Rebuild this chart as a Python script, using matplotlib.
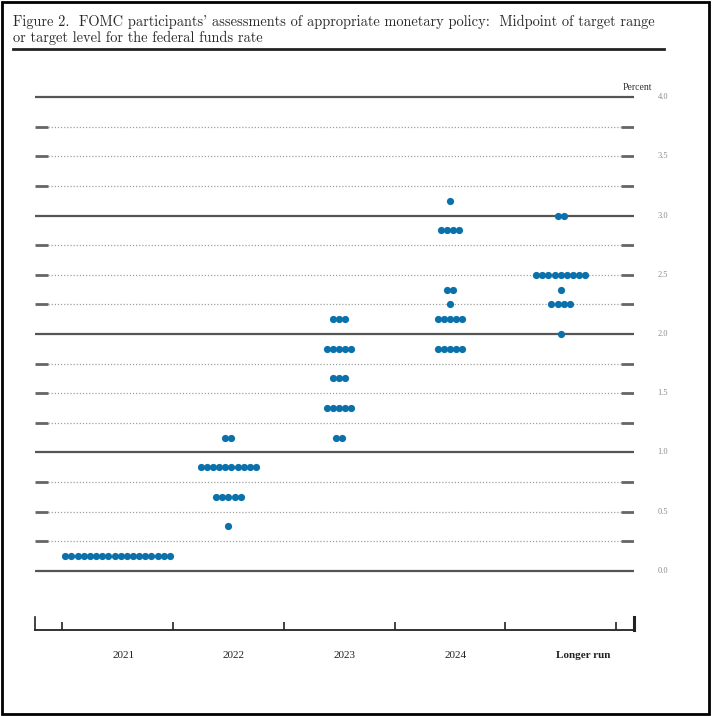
import matplotlib
matplotlib.use("Agg")
import matplotlib.pyplot as plt
import matplotlib.transforms as mtransforms
from matplotlib.patches import Rectangle
from matplotlib.lines import Line2D
import numpy as np

# FOMC dot plot: midpoint of target range per participant
categories = ["2021", "2022", "2023", "2024", "Longer run"]
rates_2021 = [0.125]
counts_2021 = [18]
rates_2022 = [0.375, 0.625, 0.875, 1.125]
counts_2022 = [1, 5, 10, 2]
rates_2023 = [1.125, 1.375, 1.625, 1.875, 2.125]
counts_2023 = [2, 5, 3, 5, 3]
rates_2024 = [1.875, 2.125, 2.25, 2.375, 2.875, 3.125]
counts_2024 = [5, 5, 1, 2, 4, 1]
rates_longer = [2.0, 2.25, 2.375, 2.5, 3.0]
counts_longer = [1, 4, 1, 9, 2]

y_labels = ["0.0", "0.5", "1.0", "1.5", "2.0", "2.5", "3.0", "3.5", "4.0"]

# cmr10 draws the plain apostrophe as a curly right quote
title = ("Figure 2.  FOMC participants' assessments of appropriate monetary policy:  Midpoint of target range\n"
         "or target level for the federal funds rate")

W, H = 713, 716
DOT = "#0a71ab"
SERIF = ["Liberation Serif", "DejaVu Serif"]


def fx(px):
    return px / W


def fy(py):
    return 1 - py / H


fig = plt.figure(figsize=(W / 100, H / 100), dpi=100)

# outer frame and title
fig.patches.append(Rectangle((fx(2), fy(714)), fx(707), 712 / H, transform=fig.transFigure,
                             fill=False, lw=2, edgecolor="black"))
fig.text(fx(13), fy(15), title, ha="left", va="top", fontsize=10.4,
         family=["cmr10", "DejaVu Serif"], color="#2a2a2a", linespacing=1.15)
fig.lines.append(Line2D([fx(13), fx(664)], [fy(49), fy(49)], transform=fig.transFigure,
                        lw=2, color="#222222"))

# main panel: 0.0 at y=570.7px, 4.0 at y=97.1px
ppu = (570.7 - 97.1) / 4
ylo, yhi = -0.1, 4.1
top_px = 97.1 - (yhi - 4) * ppu
bot_px = 570.7 + (0 - ylo) * ppu
xlo, xhi = -0.746, 4.662
ax = fig.add_axes([fx(35), fy(bot_px), fx(634) - fx(35), (bot_px - top_px) / H])
ax.set_xlim(xlo, xhi)
ax.set_ylim(ylo, yhi)
ax.axis("off")

dash = 13 / 110.7
for lv in np.arange(0, 4.01, 0.25):
    if abs(lv - round(lv)) < 1e-9:
        ax.hlines(lv, xlo, xhi, color="#555555", lw=1.6, zorder=1)
    else:
        ax.hlines(lv, xlo + dash, xhi - dash, color="#a0a0a0", lw=0.9,
                  linestyles=(0, (1, 1.5)), zorder=1)
        ax.hlines(lv, xlo, xlo + dash, color="#666666", lw=2, zorder=1)
        ax.hlines(lv, xhi - dash, xhi, color="#666666", lw=2, zorder=1)

for yl in y_labels:
    ax.text(4.875, float(yl), yl, ha="left", va="center", fontsize=6,
            color="#8a8a8a", family=SERIF, clip_on=False)
ax.text(4.825, 4.077, "Percent", ha="right", va="center", fontsize=7,
        color="#333333", family=SERIF, clip_on=False)

all_rates = [rates_2021, rates_2022, rates_2023, rates_2024, rates_longer]
all_counts = [counts_2021, counts_2022, counts_2023, counts_2024, counts_longer]
step = 6.15 / 110.7
for i, (rates, counts) in enumerate(zip(all_rates, all_counts)):
    for r, n in zip(rates, counts):
        xs = i + (np.arange(n) - (n - 1) / 2) * step
        ax.plot(xs, [r] * n, "o", color=DOT, markersize=5.2, markeredgewidth=0, zorder=3)

# bottom bracket axis
bx = fig.add_axes([fx(35), fy(630), fx(634) - fx(35), 13 / H])
bx.set_xlim(xlo, xhi)
bx.set_ylim(0, 1)
bx.patch.set_visible(False)
bx.spines["top"].set_visible(False)
bx.spines["bottom"].set_linewidth(1.3)
bx.spines["left"].set_linewidth(1.2)
bx.spines["right"].set_linewidth(2.2)
for s in bx.spines.values():
    s.set_color("#222222")
bx.set_yticks([])
bx.set_xticks(np.arange(-0.5, len(categories), 1.0))
bx.tick_params(axis="x", direction="in", length=5.8, width=1.2, color="#222222",
               labelbottom=False)

lab_tr = mtransforms.blended_transform_factory(bx.transData, fig.transFigure)
label_x = [0.05, 1.05, 2.05, 3.05, 4.2]
for lx, c in zip(label_x, categories):
    fig.text(lx, fy(655), c, transform=lab_tr, ha="center", va="center",
             fontsize=8, family=SERIF, color="#222222",
             fontweight="bold" if c == "Longer run" else "normal")

fig.savefig("out.png", dpi=100)
